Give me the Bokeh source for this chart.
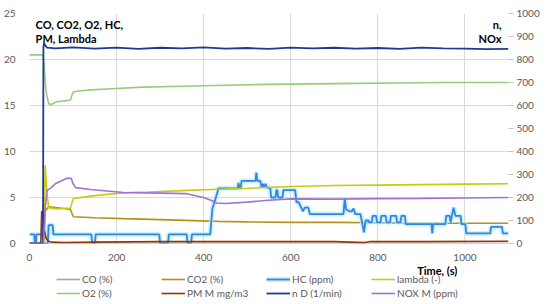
from bokeh.plotting import figure
from bokeh.layouts import column
from bokeh.models import Range1d, LinearAxis, Legend, LegendItem, Label, FixedTicker
from bokeh.embed import file_html
from bokeh.resources import INLINE

# ---------------- data ----------------
time_ticks = [0, 200, 400, 600, 800, 1000]
left_ticks = [0, 5, 10, 15, 20, 25]
right_ticks = [0, 100, 200, 300, 400, 500, 600, 700, 800, 900, 1000]

co_t = [0, 300, 600, 900, 1100]
co_v = [0.0, 0.0, 0.0, 0.0, 0.0]

co2_t = [0, 33, 36, 44, 60, 80, 94, 98, 101, 150, 216, 300, 434, 500, 600, 700, 800, 900, 1000, 1100]
co2_v = [0, 0, 3.5, 4.0, 3.9, 3.8, 3.7, 3.2, 2.9, 2.8, 2.7, 2.6, 2.4, 2.35, 2.3, 2.3, 2.25, 2.2, 2.2, 2.2]

hc_t = [0, 11, 12, 15, 16, 30, 32, 42, 44, 53, 55, 142, 144, 150, 152, 298, 300, 318, 320,
        361, 363, 371, 373, 415, 420, 428, 434, 478, 480, 482, 485, 487, 519, 521, 523, 530,
        533, 536, 539, 542, 545, 553, 555, 565, 567, 569, 571, 581, 583, 610, 613, 618, 624,
        628, 632, 640, 644, 721, 724, 727, 735, 740, 744, 748, 760, 765, 768, 772, 778, 780,
        786, 788, 796, 798, 806, 808, 818, 820, 828, 830, 842, 844, 852, 854, 862, 864, 923,
        925, 927, 955, 957, 965, 967, 970, 974, 978, 990, 992, 1001, 1003, 1058, 1060, 1085,
        1087, 1100]
hc_v = [1.0, 1.0, 0.2, 0.2, 1.0, 1.0, 0.0, 0.0, 2.0, 2.0, 1.0, 1.0, 0.0, 0.0, 1.0, 1.0, 0.0, 0.0, 1.0,
        1.0, 0.0, 0.0, 1.0, 1.0, 3.8, 5.0, 6.0, 6.0, 6.6, 6.0, 6.0, 6.8, 6.8, 7.7, 6.8, 6.8,
        6.1, 6.5, 6.1, 6.5, 6.1, 6.0, 5.0, 5.0, 5.8, 5.8, 5.0, 5.0, 5.8, 5.8, 4.5, 4.5, 3.9,
        3.5, 3.9, 3.9, 3.2, 3.2, 4.9, 3.7, 3.5, 3.5, 3.8, 3.2, 3.2, 2.0, 1.2, 2.5, 2.5, 2.3,
        2.3, 3.0, 3.0, 2.3, 2.3, 3.0, 3.0, 2.3, 2.3, 3.0, 3.0, 2.3, 2.3, 3.0, 3.0, 2.1, 2.1,
        1.1, 2.1, 2.1, 3.0, 3.0, 2.3, 3.0, 3.9, 3.0, 3.0, 2.1, 2.1, 1.1, 1.1, 1.8, 1.8,
        1.1, 1.1]

lam_t = [0, 33, 35, 36, 40, 44, 60, 80, 94, 98, 101, 150, 216, 273, 350, 434, 500, 600, 700, 800, 900, 1000, 1100]
lam_v = [0, 0, 6.0, 8.5, 5.5, 3.9, 3.75, 3.8, 3.85, 4.5, 4.9, 5.2, 5.5, 5.6, 5.75, 5.9, 6.0, 6.2, 6.3, 6.35, 6.4, 6.45, 6.5]

o2_t = [0, 30, 32, 38, 44, 50, 62, 80, 94, 98, 101, 120, 140, 200, 262, 350, 450, 550, 650, 750, 850, 950, 1050, 1100]
o2_v = [20.5, 20.5, 20.3, 16.5, 15.2, 15.1, 15.4, 15.5, 15.6, 16.2, 16.5, 16.6, 16.7, 16.85, 17.0, 17.1, 17.2,
        17.3, 17.35, 17.4, 17.45, 17.5, 17.5, 17.5]

pm_t = [0, 26, 28, 31, 34, 38, 42, 50, 80, 150, 300, 500, 700, 770, 780, 900, 1100]
pm_v = [0, 0, 3.5, 3.4, 1.5, 0.6, 0.3, 0.15, 0.1, 0.15, 0.2, 0.2, 0.2, 0.1, 0.2, 0.2, 0.25]

nd_t = [0, 31, 32, 33, 40, 60, 100, 150, 200, 250, 300, 350, 400, 450, 500, 550, 600, 650, 700, 750,
        800, 850, 900, 950, 1000, 1050, 1100]
nd_v = [0, 0, 850, 870, 852, 848, 853, 847, 852, 846, 851, 848, 853, 847, 850, 846, 852, 848, 851, 847,
        850, 846, 852, 848, 847, 845, 846]

nox_t = [0, 32, 36, 40, 50, 60, 85, 96, 100, 106, 140, 216, 273, 358, 400, 418, 430, 450, 500, 550,
         600, 700, 800, 900, 1000, 1100]
nox_v = [0, 0, 150, 230, 243, 261, 283, 283, 260, 243, 235, 222, 220, 217, 200, 187, 176, 174, 180, 188,
         194, 193, 195, 196, 198, 200]

labels = ["CO (%)", "CO2 (%)", "HC (ppm)", "lambda (-)", "O2 (%)", "PM M mg/m3", "n D (1/min)", "NOX M (ppm)"]
colors = ["#A5A5A5", "#B8901A", "#3F7FE0", "#C9C914", "#9BCB7A", "#993300", "#1F3A93", "#9E74D4"]
series = [(co_t, co_v), (co2_t, co2_v), (hc_t, hc_v), (lam_t, lam_v),
          (o2_t, o2_v), (pm_t, pm_v), (nd_t, nd_v), (nox_t, nox_v)]

FONT = "Lato"
TXT = "#595959"
GRID = "#D9D9D9"
W = 534

# ---------------- main chart ----------------
p = figure(frame_width=479, frame_height=230, output_backend="svg", toolbar_location=None,
           x_range=Range1d(0, 1100), y_range=Range1d(0, 25),
           min_border_left=23, min_border_right=32, min_border_top=13, min_border_bottom=18)
p.extra_y_ranges = {"right": Range1d(0, 1000)}
p.outline_line_color = None

p.xaxis.ticker = FixedTicker(ticks=time_ticks)
p.yaxis.ticker = FixedTicker(ticks=left_ticks)
for ax in [p.xaxis[0], p.yaxis[0]]:
    ax.axis_line_color = None
    ax.major_tick_line_color = None
    ax.minor_tick_line_color = None
    ax.major_label_text_color = TXT
    ax.major_label_text_font = FONT
    ax.major_label_text_font_size = "10px"
p.yaxis.major_label_standoff = 8
p.xaxis.major_label_standoff = 4

rax = LinearAxis(y_range_name="right", ticker=FixedTicker(ticks=right_ticks))
rax.axis_line_color = None
rax.major_tick_line_color = "#BFBFBF"
rax.major_tick_out = 5
rax.major_tick_in = 0
rax.minor_tick_line_color = None
rax.major_label_text_color = TXT
rax.major_label_text_font = FONT
rax.major_label_text_font_size = "10px"
rax.major_label_standoff = 3
p.add_layout(rax, "right")

p.xgrid.ticker = FixedTicker(ticks=time_ticks)
p.ygrid.ticker = FixedTicker(ticks=left_ticks)
p.xgrid.grid_line_color = GRID
p.ygrid.grid_line_color = GRID

for i, ((tx, vy), c) in enumerate(zip(series, colors)):
    rng = "right" if i in (6, 7) else "default"
    if i == 2:
        p.line(tx, vy, color="#A8F2FF", line_width=5, alpha=0.7, y_range_name=rng)
    p.line(tx, vy, color=c, line_width=1.8 if i in (2, 6) else 1.6, y_range_name=rng)

hdr = dict(text_font=FONT, text_font_style="bold", text_font_size="11px", text_color="black",
           text_baseline="top")
p.add_layout(Label(x=14, y=24.5, text="CO, CO2, O2, HC,", **hdr))
p.add_layout(Label(x=14, y=23.0, text="PM, Lambda", **hdr))
p.add_layout(Label(x=1084, y=24.5, text="n,", text_align="right", **hdr))
p.add_layout(Label(x=1084, y=23.0, text="NOx", text_align="right", **hdr))

# ---------------- legend strip (pixel coordinates) ----------------
H2 = 40
q = figure(width=W, height=H2, output_backend="svg", toolbar_location=None,
           x_range=Range1d(0, W), y_range=Range1d(0, H2),
           min_border_left=0, min_border_right=0, min_border_top=0, min_border_bottom=0)
q.axis.visible = False
q.grid.visible = False
q.outline_line_color = None

q.add_layout(Label(x=485, y=33, text="Time, (s)", text_align="right", text_baseline="middle",
                   text_font=FONT, text_font_style="bold", text_font_size="11px", text_color="black"))

# hidden copies of the series: only their legend keys are drawn in this strip
keys = []
for i, ((tx, vy), c) in enumerate(zip(series, colors)):
    rs = []
    if i == 2:
        rs.append(q.line(tx, vy, color="#A8F2FF", line_width=5, alpha=0.7, visible=False))
    rs.append(q.line(tx, vy, color=c, line_width=1.8 if i in (2, 6) else 1.6, visible=False))
    keys.append(rs)
items = [LegendItem(label=l, renderers=r) for l, r in zip(labels, keys)]
leg_style = dict(orientation="horizontal",
                 label_text_font=FONT, label_text_font_size="10px", label_text_color=TXT,
                 glyph_width=24, glyph_height=12, label_standoff=2, label_width=76, label_height=12,
                 spacing=3, padding=0, margin=0, border_line_color=None, background_fill_alpha=0,
                 inactive_fill_alpha=0)
q.add_layout(Legend(items=items[:4], location=(27, 18), **leg_style))
q.add_layout(Legend(items=items[4:], location=(27, 4), **leg_style))

open("out.html", "w").write(file_html(column(p, q, spacing=0), INLINE))
